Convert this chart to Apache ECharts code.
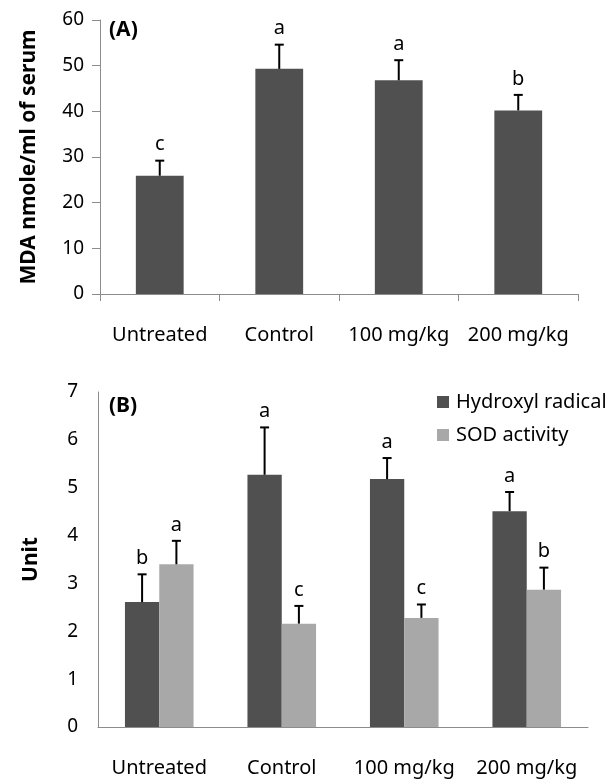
<!DOCTYPE html>
<html>
<head>
<meta charset="utf-8">
<script src="https://cdn.jsdelivr.net/npm/echarts@6/dist/echarts.min.js"></script>
<style>
  html, body { margin: 0; padding: 0; background: #fff; }
  #chart { width: 616px; height: 781px; }
</style>
</head>
<body>
<div id="chart"></div>
<script>
const categories = ['Untreated', 'Control', '100 mg/kg', '200 mg/kg'];

// panel A: MDA
const mdaValues = [25.9, 49.3, 46.8, 40.2];
const mdaErrors = [3.3, 5.3, 4.4, 3.4];
const mdaLetters = ['c', 'a', 'a', 'b'];

// panel B: hydroxyl radical + SOD
const hydroxylValues = [2.61, 5.27, 5.18, 4.51];
const hydroxylErrors = [0.58, 0.99, 0.44, 0.40];
const hydroxylLetters = ['b', 'a', 'a', 'a'];
const sodValues = [3.40, 2.16, 2.28, 2.87];
const sodErrors = [0.49, 0.37, 0.28, 0.46];
const sodLetters = ['a', 'c', 'c', 'b'];

const FONT = 'Noto Sans';
const DARK = '#505050';
const LIGHT = '#a8a8a8';
const AXIS = '#8c8c8c';

const chartDom = document.getElementById('chart');
const myChart = echarts.init(chartDom);

// error bar + significance letter, shift = offset from category centre in band widths
function errorBars(values, errors, letters, shift) {
    return function (params, api) {
        const idx = api.value(0);
        const base = api.coord([idx, api.value(1)]);
        const cap = api.coord([idx, api.value(1) + api.value(2)]);
        const band = api.size([1, 0])[0];
        const x = base[0] + band * shift;
        return {
            type: 'group',
            children: [
                { type: 'line', shape: { x1: x, y1: base[1], x2: x, y2: cap[1] }, style: { stroke: '#000', lineWidth: 2 } },
                { type: 'line', shape: { x1: x - 4.5, y1: cap[1], x2: x + 4.5, y2: cap[1] }, style: { stroke: '#000', lineWidth: 2 } },
                { type: 'text', style: { text: letters[params.dataIndex], x: x, y: cap[1] - 6, align: 'center', verticalAlign: 'bottom', fontSize: 20, fontFamily: FONT, fill: '#000' } }
            ]
        };
    };
}

function errData(values, errors) {
    return values.map((v, i) => [i, v, errors[i]]);
}

const option = {
    animation: false,
    backgroundColor: '#fff',
    textStyle: { fontFamily: FONT },
    grid: [
        { left: 100, top: 20, width: 478, height: 274 },
        { left: 98, top: 392, width: 490, height: 335 }
    ],
    legend: {
        data: ['Hydroxyl radical', 'SOD activity'],
        orient: 'vertical',
        left: 432,
        top: 387,
        itemWidth: 12,
        itemHeight: 12,
        itemGap: 13,
        icon: 'rect',
        textStyle: { fontSize: 20, fontFamily: FONT, color: '#000', padding: [0, 0, 0, 2] }
    },
    graphic: [
        { type: 'text', left: 109, top: 20, style: { text: '(A)', fontSize: 21, fontWeight: 'bold', fontFamily: FONT, fill: '#000' } },
        { type: 'text', left: 109, top: 396, style: { text: '(B)', fontSize: 21, fontWeight: 'bold', fontFamily: FONT, fill: '#000' } }
    ],
    xAxis: [
        {
            gridIndex: 0, type: 'category', data: categories,
            axisLine: { lineStyle: { color: AXIS } },
            axisTick: { show: true, length: 7, lineStyle: { color: AXIS } },
            axisLabel: { interval: 0, hideOverlap: false, margin: 31, fontSize: 20, color: '#000', fontFamily: FONT }
        },
        {
            gridIndex: 1, type: 'category', data: categories,
            axisLine: { lineStyle: { color: AXIS } },
            axisTick: { show: false },
            axisLabel: { interval: 0, hideOverlap: false, margin: 31, fontSize: 20, color: '#000', fontFamily: FONT }
        }
    ],
    yAxis: [
        {
            gridIndex: 0, type: 'value', min: 0, max: 60, interval: 10,
            name: 'MDA nmole/ml of serum', nameLocation: 'middle', nameGap: 60,
            nameTextStyle: { fontSize: 21, fontWeight: 'bold', color: '#000', fontFamily: FONT },
            axisLine: { show: true, lineStyle: { color: AXIS } },
            axisTick: { show: true, length: 8, lineStyle: { color: AXIS } },
            axisLabel: { margin: 16, fontSize: 19, color: '#000', fontFamily: FONT },
            splitLine: { show: false }
        },
        {
            gridIndex: 1, type: 'value', min: 0, max: 7, interval: 1,
            name: 'Unit', nameLocation: 'middle', nameGap: 56,
            nameTextStyle: { fontSize: 21, fontWeight: 'bold', color: '#000', fontFamily: FONT },
            axisLine: { show: true, lineStyle: { color: AXIS } },
            axisTick: { show: false },
            axisLabel: { margin: 20, fontSize: 19, color: '#000', fontFamily: FONT },
            splitLine: { show: false }
        }
    ],
    series: [
        {
            name: 'MDA', type: 'bar', xAxisIndex: 0, yAxisIndex: 0,
            data: mdaValues, barCategoryGap: '60%',
            itemStyle: { color: DARK }
        },
        {
            type: 'custom', xAxisIndex: 0, yAxisIndex: 0, z: 5,
            data: errData(mdaValues, mdaErrors),
            renderItem: errorBars(mdaValues, mdaErrors, mdaLetters, 0)
        },
        {
            name: 'Hydroxyl radical', type: 'bar', xAxisIndex: 1, yAxisIndex: 1,
            data: hydroxylValues, barWidth: '28%', barGap: '0%',
            itemStyle: { color: DARK }
        },
        {
            name: 'SOD activity', type: 'bar', xAxisIndex: 1, yAxisIndex: 1,
            data: sodValues, barWidth: '28%', barGap: '0%',
            itemStyle: { color: LIGHT }
        },
        {
            type: 'custom', xAxisIndex: 1, yAxisIndex: 1, z: 5,
            data: errData(hydroxylValues, hydroxylErrors),
            renderItem: errorBars(hydroxylValues, hydroxylErrors, hydroxylLetters, -0.14)
        },
        {
            type: 'custom', xAxisIndex: 1, yAxisIndex: 1, z: 5,
            data: errData(sodValues, sodErrors),
            renderItem: errorBars(sodValues, sodErrors, sodLetters, 0.14)
        }
    ]
};

myChart.setOption(option);
</script>
</body>
</html>
